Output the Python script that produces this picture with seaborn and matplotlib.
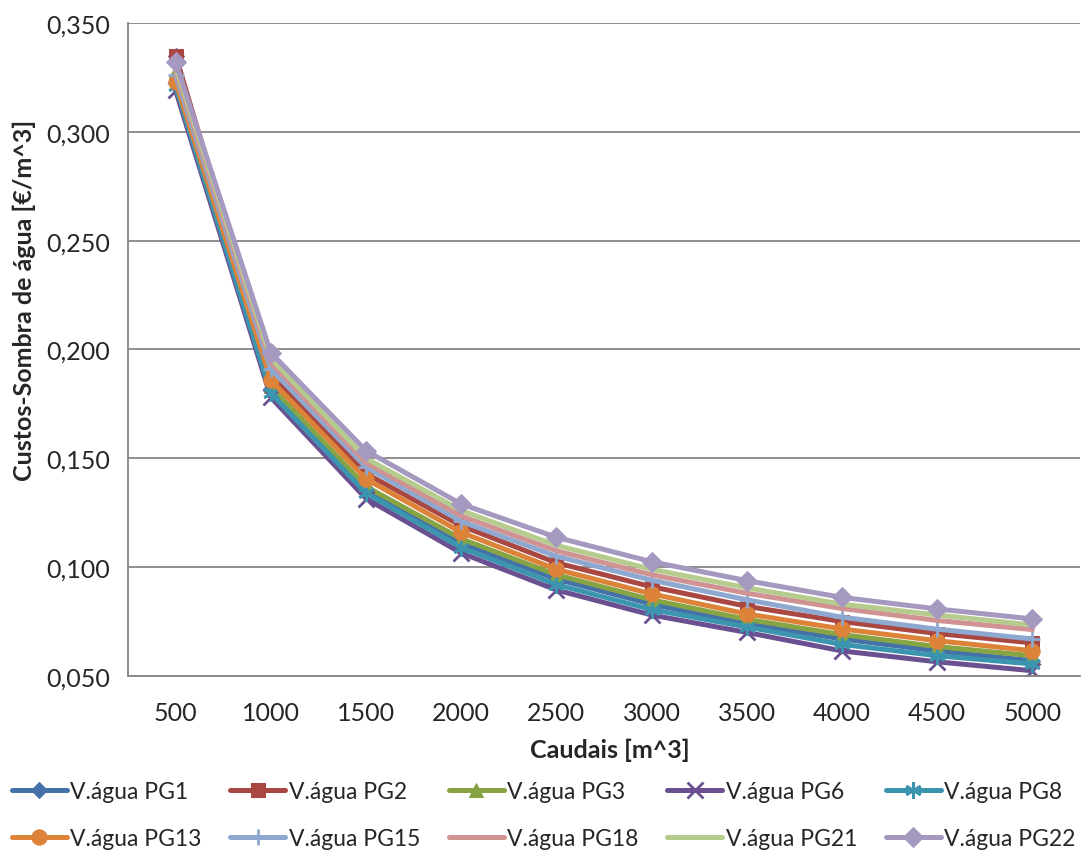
import numpy as np
import pandas as pd
import seaborn as sns
import matplotlib.pyplot as plt
from matplotlib.ticker import FuncFormatter, FixedLocator

# data
caudais = [500, 1000, 1500, 2000, 2500, 3000, 3500, 4000, 4500, 5000]

pg1 = [0.335, 0.182, 0.136, 0.111, 0.0945, 0.083, 0.074, 0.067, 0.0615, 0.057]
pg2 = [0.335, 0.189, 0.143, 0.119, 0.102, 0.091, 0.082, 0.075, 0.0695, 0.0652]
pg3 = [0.328, 0.183, 0.137, 0.113, 0.0965, 0.085, 0.076, 0.069, 0.0635, 0.0593]
pg6 = [0.319, 0.178, 0.1315, 0.1065, 0.0895, 0.078, 0.070, 0.0615, 0.0565, 0.0524]
pg8 = [0.321, 0.180, 0.134, 0.109, 0.092, 0.0805, 0.0725, 0.0645, 0.0593, 0.0555]
pg13 = [0.323, 0.186, 0.1405, 0.116, 0.099, 0.0877, 0.0785, 0.0716, 0.0662, 0.0616]
pg15 = [0.326, 0.191, 0.146, 0.121, 0.105, 0.094, 0.085, 0.077, 0.0715, 0.067]
pg18 = [0.328, 0.194, 0.148, 0.1235, 0.1075, 0.0965, 0.088, 0.081, 0.0755, 0.0713]
pg21 = [0.330, 0.196, 0.150, 0.126, 0.110, 0.099, 0.0905, 0.083, 0.078, 0.0734]
pg22 = [0.332, 0.1985, 0.1535, 0.129, 0.1137, 0.1025, 0.0938, 0.0861, 0.0808, 0.0762]

series_names = ['V.água PG1', 'V.água PG2', 'V.água PG3', 'V.água PG6', 'V.água PG8',
                'V.água PG13', 'V.água PG15', 'V.água PG18', 'V.água PG21', 'V.água PG22']
series_values = [pg1, pg2, pg3, pg6, pg8, pg13, pg15, pg18, pg21, pg22]

# style per series (Excel look)
colors = ['#4472A8', '#A94743', '#86A444', '#6A5090', '#3C95AE',
          '#DD8339', '#8EA8D0', '#D09292', '#B5CC8E', '#A699C0']
markers = ['D', 's', '^', 'x', (6, 2, 0), 'o', '+', None, None, 'D']
msizes = [8, 10, 10, 11, 12, 11, 12, 0, 0, 10]

sns.set_style("white")
plt.rcParams['font.family'] = ['Lato', 'DejaVu Sans']

fig = plt.figure(figsize=(10.82, 8.54), dpi=100)
ax = fig.add_axes([0.1183, 0.2073, 0.8799, 0.7646])

for name, vals, c, m, ms in zip(series_names, series_values, colors, markers, msizes):
    df = pd.DataFrame({'Caudal': caudais, 'Custo': vals})
    kw = dict(marker=m, markersize=ms, markeredgecolor=c, markerfacecolor=c) if m is not None else {}
    if m in ('x', '+', (6, 2, 0)):
        kw['markeredgewidth'] = 2
    sns.lineplot(data=df, x='Caudal', y='Custo', color=c, lw=3.6, label=name, ax=ax, **kw)

ax.set_xlim(250, 5250)
ax.set_ylim(0.05, 0.35)
ax.set_yticks(np.arange(0.05, 0.351, 0.05))
ax.yaxis.set_major_formatter(FuncFormatter(lambda v, p: f'{v:.3f}'.replace('.', ',')))
ax.set_xticks(caudais)
ax.xaxis.set_minor_locator(FixedLocator(np.arange(250, 5300, 500)))

ax.grid(axis='y', color='#868686', lw=1.3)
ax.set_axisbelow(True)
for s in ['top', 'right']:
    ax.spines[s].set_visible(False)
for s in ['left', 'bottom']:
    ax.spines[s].set_color('#868686')
    ax.spines[s].set_linewidth(1.3)

ax.tick_params(axis='y', which='major', length=5, color='#868686', width=1.3,
               labelsize=18, pad=8)
ax.tick_params(axis='x', which='major', length=0, labelsize=18, pad=18)
ax.tick_params(axis='x', which='minor', length=8, color='#868686', width=1.3)

ax.set_xlabel('Caudais [m^3]', fontsize=18, fontweight='bold', va='top')
ax.xaxis.set_label_coords(0.506, -0.095)
ax.set_ylabel('Custos-Sombra de água [€/m^3]', fontsize=18, fontweight='bold')
ax.yaxis.set_label_coords(-0.097, 0.577)

# legend in row-major order, 2 rows x 5 columns, below the axes
handles, labels = ax.get_legend_handles_labels()
ax.get_legend().remove()
order = [0, 5, 1, 6, 2, 7, 3, 8, 4, 9]
fig.legend([handles[i] for i in order], [labels[i] for i in order],
           ncol=5, loc='upper left', bbox_to_anchor=(0.011, 0.084),
           bbox_transform=fig.transFigure,
           frameon=False, fontsize=16.5, handlelength=2.4, handletextpad=0.15,
           columnspacing=1.25, labelspacing=1.12, borderaxespad=0, borderpad=0)

fig.savefig('out.png', dpi=100)
